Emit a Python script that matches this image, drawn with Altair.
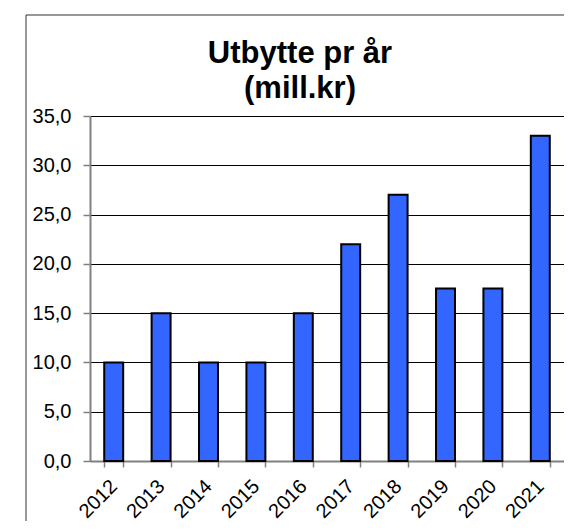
import altair as alt
import pandas as pd

years = ["2012", "2013", "2014", "2015", "2016", "2017", "2018", "2019", "2020", "2021"]
values = [10.0, 15.0, 10.0, 10.0, 15.0, 22.0, 27.0, 17.5, 17.5, 33.0]
title_lines = ["Utbytte pr år", "(mill.kr)"]

df = pd.DataFrame({"year": years, "value": values})
FONT = "Liberation Sans"

bars = alt.Chart(df).mark_bar(
    color="#3366FF", stroke="black", strokeWidth=2
).encode(
    x=alt.X("year:N", sort=years, title=None,
            scale=alt.Scale(paddingInner=0.6, paddingOuter=0.3),
            axis=alt.Axis(labelAngle=-45, labelAlign="right", labelBaseline="middle",
                          labelFontSize=20, labelFont=FONT, labelColor="black",
                          labelPadding=16, tickBand="extent", tickSize=6,
                          tickColor="#808080", tickWidth=1.5,
                          domainColor="#808080", domainWidth=2, grid=False)),
    y=alt.Y("value:Q", title=None,
            scale=alt.Scale(domain=[0, 35], nice=False),
            axis=alt.Axis(values=[0, 5, 10, 15, 20, 25, 30, 35],
                          labelExpr="replace(format(datum.value, '.1f'), '.', ',')",
                          labelFontSize=20, labelFont=FONT, labelColor="black",
                          labelPadding=12, tickSize=7, tickColor="#808080", tickWidth=1.5,
                          domainColor="#808080", domainWidth=2,
                          grid=True, gridColor="black", gridWidth=1)),
)

frame = alt.Chart(alt.Data(values=[{"a": 1}])).mark_rect(
    fill=None, stroke="#333333", strokeWidth=1
).encode(
    x=alt.value(-64), x2=alt.value(560),
    y=alt.value(-101), y2=alt.value(480),
)

title1 = alt.Chart(alt.Data(values=[{"t": title_lines[0]}])).mark_text(
    font=FONT, fontSize=31, fontWeight="bold", color="black",
    align="center", baseline="alphabetic"
).encode(text="t:N", x=alt.value(210), y=alt.value(-53))

title2 = alt.Chart(alt.Data(values=[{"t": title_lines[1]}])).mark_text(
    font=FONT, fontSize=31, fontWeight="bold", color="black",
    align="center", baseline="alphabetic"
).encode(text="t:N", x=alt.value(210), y=alt.value(-18))

chart = alt.layer(frame, bars, title1, title2).properties(
    width=474, height=345,
    autosize=alt.AutoSizeParams(type="none"),
    padding={"left": 82, "top": 108, "right": 0, "bottom": 60},
).configure_view(stroke="#8c8c8c", strokeWidth=2).configure(background="white")

chart.save("out.html", embed_options={"renderer": "svg", "actions": False})
